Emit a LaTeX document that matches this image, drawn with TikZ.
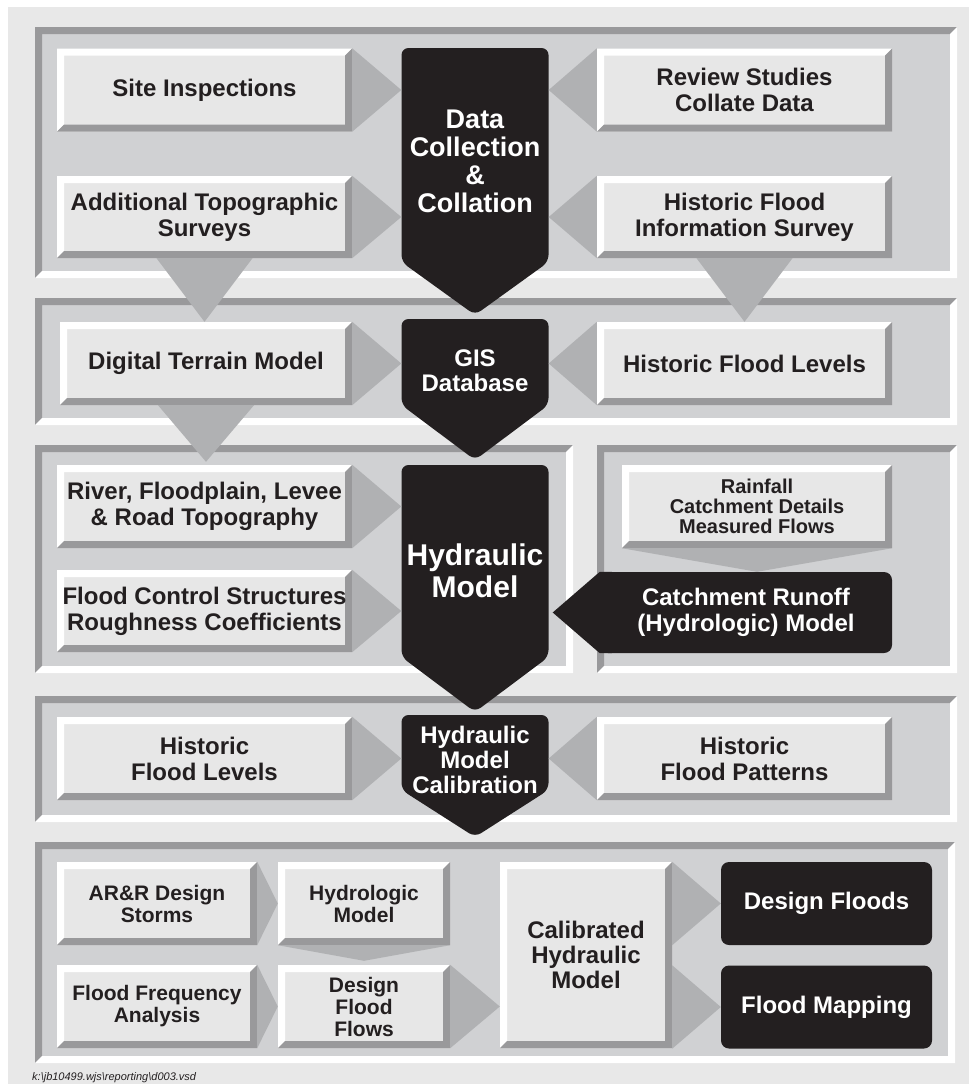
\documentclass[tikz,border=0pt]{standalone}
\usepackage{fontspec}
\setmainfont{Liberation Sans}
\usetikzlibrary{positioning}

\definecolor{pageGrey}{RGB}{232,232,232}
\definecolor{panelGrey}{RGB}{208,209,211}
\definecolor{edgeGrey}{RGB}{153,153,155}
\definecolor{boxGrey}{RGB}{231,231,231}
\definecolor{wedgeGrey}{RGB}{176,177,179}
\definecolor{ink}{RGB}{35,31,32}

\newcommand\sizedfont[2]{\bfseries\fontsize{#1}{#2}\selectfont}

\tikzset{
    bevel/.style n args={3}{
        path picture={
            % upper and left bands
            \fill[#2] (path picture bounding box.south west) -- (path picture bounding box.north west)
                -- (path picture bounding box.north east) -- ([shift={(-#1,-#1)}]path picture bounding box.north east)
                -- ([shift={(#1,-#1)}]path picture bounding box.north west) -- ([shift={(#1,#1)}]path picture bounding box.south west) -- cycle;
            % lower and right bands
            \fill[#3] (path picture bounding box.south west) -- (path picture bounding box.south east)
                -- (path picture bounding box.north east) -- ([shift={(-#1,-#1)}]path picture bounding box.north east)
                -- ([shift={(-#1,#1)}]path picture bounding box.south east) -- ([shift={(#1,#1)}]path picture bounding box.south west) -- cycle;
        }
    },
    panel/.style={fill=panelGrey, bevel={7pt}{edgeGrey}{white}},
    greybox/.style={fill=boxGrey, bevel={7pt}{white}{edgeGrey}, text=ink, align=center,
        inner sep=0pt, minimum width=295pt, minimum height=83pt, font=\sizedfont{24}{26}},
    smallbox/.style={greybox, minimum width=200pt, font=\sizedfont{21}{22}},
    darkbox/.style={fill=ink, rounded corners=8pt, text=white, align=center, inner sep=0pt,
        minimum width=211pt, minimum height=83pt, font=\sizedfont{24}{26}},
    hubtext/.style={text=white, align=center, inner sep=0pt, minimum width=147pt},
    wedgefill/.style={fill=wedgeGrey}
}

% black down-pointing block: top, bend, tip
\newcommand\hubshape[3]{%
    \fill[ink, rounded corners=7pt] (401.5,#1) -- (548.5,#1) -- (548.5,#2) -- (475,#3) -- (401.5,#2) -- cycle;}

\begin{document}
\begin{tikzpicture}[x=1pt, y=-1pt]
    \useasboundingbox (0,0) rectangle (969,1084);
    \fill[pageGrey] (8,7) rectangle (969,1084);

    % Sunken panels, one per stage
    \path[panel] (35,27) rectangle (957,278);
    \path[panel] (35,298) rectangle (957,425);
    \path[panel] (35,445) rectangle (573,673);
    \path[panel] (597,445) rectangle (957,673);
    \path[panel] (35,696) rectangle (957,822);
    \path[panel] (35,842) rectangle (955,1063);

    % Black blocks down the middle
    \hubshape{48}{262}{315}
    \hubshape{319}{405}{460}
    \hubshape{465}{657}{712}
    \hubshape{715}{790}{837}

    \node[hubtext, font=\sizedfont{27}{28}] (dcc) at (475,161.5) {Data\\Collection\\\&\\Collation};
    \node[hubtext, font=\sizedfont{24}{25}] (gis) at (475,370.5) {GIS\\Database};
    \node[hubtext, font=\sizedfont{30}{32}] (hyd) at (475,571) {Hydraulic\\Model};
    \node[hubtext, font=\sizedfont{24}{25}] (cal) at (475,760) {Hydraulic\\Model\\Calibration};

    % Data collection
    \node[greybox] (site) at (204.5,90) {Site Inspections};
    \node[greybox, minimum height=82pt] (topo) at (204.5,217) {Additional Topographic\\Surveys};
    \node[greybox] (review) at (744.5,90) {Review Studies\\Collate Data};
    \node[greybox, minimum height=82pt] (histinfo) at (744.5,217) {Historic Flood\\Information Survey};

    % GIS
    \node[greybox, minimum width=292pt] (dtm) at (206,363.5) {Digital Terrain Model};
    \node[greybox] (histlev) at (744.5,363.5) {Historic Flood Levels};

    % Hydraulic model inputs
    \node[greybox] (river) at (204.5,506.5) {River, Floodplain, Levee\\\& Road Topography};
    \node[greybox, minimum height=82pt] (struct) at (204.5,611) {Flood Control Structures\\Roughness Coefficients};
    \node[greybox, minimum width=270pt, font=\sizedfont{20}{20}] (rain) at (757,506.5) {Rainfall\\Catchment Details\\Measured Flows};
    \node[darkbox, minimum width=292pt, minimum height=81pt] (runoff) at (746,612.5) {Catchment Runoff\\(Hydrologic) Model};
    \fill[ink] (runoff.north west) -- ([xshift=12pt]runoff.north west) -- ([xshift=12pt]runoff.south west)
        -- (runoff.south west) -- ([xshift=4pt]runoff.west -| hyd.east) -- cycle;

    % Calibration
    \node[greybox] (calLev) at (204.5,758.5) {Historic\\Flood Levels};
    \node[greybox] (calPat) at (744.5,758.5) {Historic\\Flood Patterns};

    % Design
    \node[smallbox] (storms) at (157,903.5) {AR\&R Design\\Storms};
    \node[smallbox, minimum width=172pt] (hydrologic) at (364,903.5) {Hydrologic\\Model};
    \node[smallbox] (freq) at (157,1006.5) {Flood Frequency\\Analysis};
    \node[smallbox, minimum width=172pt] (flows) at (364,1006.5) {Design\\Flood\\Flows};
    \node[greybox, minimum width=172pt, minimum height=186pt, font=\sizedfont{24}{25}] (calibrated) at (586,955) {Calibrated\\Hydraulic\\Model};
    \node[darkbox] (floods) at (826.5,903.5) {Design Floods};
    \node[darkbox] (mapping) at (826.5,1007) {Flood Mapping};

    % Grey pointers between blocks
    \fill[wedgefill] (site.north east) -- (site.south east) -- (site.east -| dcc.west) -- cycle;
    \fill[wedgefill] (topo.north east) -- (topo.south east) -- (topo.east -| dcc.west) -- cycle;
    \fill[wedgefill] (review.north west) -- (review.south west) -- (review.west -| dcc.east) -- cycle;
    \fill[wedgefill] (histinfo.north west) -- (histinfo.south west) -- (histinfo.west -| dcc.east) -- cycle;
    \fill[wedgefill] ([xshift=-48pt]topo.south) -- ([xshift=48pt]topo.south) -- (topo.south |- dtm.north) -- cycle;
    \fill[wedgefill] ([xshift=-48pt]histinfo.south) -- ([xshift=48pt]histinfo.south) -- (histinfo.south |- histlev.north) -- cycle;

    \fill[wedgefill] (dtm.north east) -- (dtm.south east) -- (dtm.east -| gis.west) -- cycle;
    \fill[wedgefill] (histlev.north west) -- (histlev.south west) -- (histlev.west -| gis.east) -- cycle;
    \fill[wedgefill] ([xshift=-48pt]dtm.south) -- ([xshift=48pt]dtm.south) -- ([yshift=3pt]dtm.south |- river.north) -- cycle;

    \fill[wedgefill] (river.north east) -- (river.south east) -- (river.east -| hyd.west) -- cycle;
    \fill[wedgefill] (struct.north east) -- (struct.south east) -- (struct.east -| hyd.west) -- cycle;
    \fill[wedgefill] (rain.south west) -- (rain.south east) -- (rain.south |- runoff.north) -- cycle;

    \fill[wedgefill] (calLev.north east) -- (calLev.south east) -- (calLev.east -| cal.west) -- cycle;
    \fill[wedgefill] (calPat.north west) -- (calPat.south west) -- (calPat.west -| cal.east) -- cycle;

    \fill[wedgefill] (storms.north east) -- (storms.south east) -- (storms.east -| hydrologic.west) -- cycle;
    \fill[wedgefill] (freq.north east) -- (freq.south east) -- (freq.east -| flows.west) -- cycle;
    \fill[wedgefill] (hydrologic.south west) -- (hydrologic.south east) -- ([yshift=4pt]hydrologic.south |- flows.north) -- cycle;
    \fill[wedgefill] (flows.north east) -- (flows.south east) -- (flows.east -| calibrated.west) -- cycle;
    \fill[wedgefill] (calibrated.east |- floods.north) -- (calibrated.east |- floods.south) -- (floods.west) -- cycle;
    \fill[wedgefill] (calibrated.east |- mapping.north) -- (calibrated.east |- mapping.south) -- (mapping.west) -- cycle;

    % File reference
    \node[anchor=base west, inner sep=0pt, text=ink, font=\itshape\fontsize{11}{13}\selectfont] (source) at (32,1080)
        {k:\textbackslash jb10499.wjs\textbackslash reporting\textbackslash d003.vsd};
\end{tikzpicture}
\end{document}
